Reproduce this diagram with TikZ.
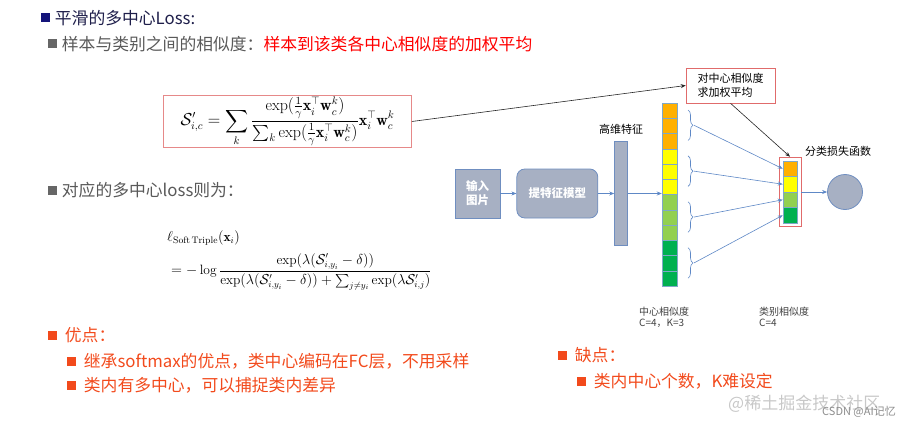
\documentclass[tikz,border=0pt]{standalone}
\usepackage{fontspec}
\usepackage{amsmath,amssymb}
\newfontfamily\cjk{Noto Sans CJK SC}
\usetikzlibrary{positioning,arrows.meta,decorations.pathreplacing}

\definecolor{navybul}{HTML}{14147A}
\definecolor{titletxt}{HTML}{1E1E4A}
\definecolor{graybul}{HTML}{666666}
\definecolor{graytxt}{HTML}{595959}
\definecolor{hired}{HTML}{FF0000}
\definecolor{proscol}{HTML}{F24A1C}
\definecolor{boxfill}{HTML}{A7B0C3}
\definecolor{boxline}{HTML}{6F8EC0}
\definecolor{flowcol}{HTML}{5E88C6}
\definecolor{corange}{HTML}{FFB000}
\definecolor{cyellow}{HTML}{FFFF00}
\definecolor{clgreen}{HTML}{92D050}
\definecolor{cgreen}{HTML}{00B050}
\definecolor{cellline}{HTML}{7FA8C8}
\definecolor{frameline}{HTML}{E06B6B}
\definecolor{markcol}{HTML}{C8C8C8}

\tikzset{
  bul/.style={fill=#1,minimum size=9pt,inner sep=0pt},
  lvltxt/.style={anchor=west,inner sep=0pt,font=\cjk\fontsize{16.8}{19}\selectfont},
  smalltxt/.style={inner sep=0pt,font=\cjk\fontsize{11}{13}\selectfont},
  tinytxt/.style={anchor=west,inner sep=0pt,text=black!75,font=\cjk\fontsize{10}{12}\selectfont},
  blockbox/.style={draw=boxline,fill=boxfill,line width=0.8pt,text=white,align=center,
    font=\cjk\fontsize{11.5}{14}\selectfont\bfseries,inner sep=0pt},
  cell/.style={draw=cellline,line width=0.5pt,minimum width=15pt,minimum height=15.25pt,inner sep=0pt},
  kcell/.style={draw=cellline,line width=0.5pt,minimum width=14pt,minimum height=15.5pt,inner sep=0pt},
  flow/.style={draw=flowcol,line width=0.6pt,-{Stealth[length=5pt,width=4pt]}},
  pointer/.style={draw=black!85,line width=0.6pt,-{Stealth[length=5pt,width=4pt]}},
  bracket/.style={draw=flowcol,line width=0.6pt,decorate,decoration={brace,amplitude=5pt}},
}

\begin{document}
\begin{tikzpicture}[x=1pt,y=-1pt]
  \useasboundingbox (0,0) rectangle (904,428);

  % Headings
  \node[bul=navybul] (h1b) at (45,18) {};
  \node[lvltxt,text=titletxt,right=5pt of h1b] (h1) {平滑的多中心Loss:};
  \node[bul=graybul] (h2b) at (52,44) {};
  \node[lvltxt,text=graytxt,right=5pt of h2b] (h2) {样本与类别之间的相似度：\textcolor{hired}{样本到该类各中心相似度的加权平均}};
  \node[bul=graybul] (h3b) at (52,190) {};
  \node[lvltxt,text=graytxt,right=5pt of h3b] (h3) {对应的多中心loss则为：};

  % Formulas
  \node[draw=frameline!80,line width=0.6pt,minimum width=248pt,minimum height=52pt,inner sep=0pt,
    font=\fontsize{16}{19}\selectfont] (simf) at (287.5,121.5)
    {$\displaystyle \mathcal{S}'_{i,c} = \sum_k \frac{\exp(\frac{1}{\gamma}\mathbf{x}_i^\top\mathbf{w}_c^k)}{\sum_k\exp(\frac{1}{\gamma}\mathbf{x}_i^\top\mathbf{w}_c^k)}\mathbf{x}_i^\top\mathbf{w}_c^k$};
  \node[anchor=north west,inner sep=0pt,font=\fontsize{13.5}{16}\selectfont] (lossf) at (167,230)
    {$\begin{aligned}
      &\ell_{\mathrm{Soft\,Triple}}(\mathbf{x}_i)\\[3pt]
      &= -\log\frac{\exp(\lambda(\mathcal{S}'_{i,y_i}-\delta))}{\exp(\lambda(\mathcal{S}'_{i,y_i}-\delta))+\sum_{j\neq y_i}\exp(\lambda\mathcal{S}'_{i,j})}
    \end{aligned}$};

  % Pros and cons
  \node[bul=proscol] (p0b) at (52,335) {};
  \node[lvltxt,text=proscol,right=8pt of p0b] (p0) {优点：};
  \node[bul=proscol] (p1b) at (71,361) {};
  \node[lvltxt,text=proscol,right=8pt of p1b] (p1) {继承softmax的优点，类中心编码在FC层，不用采样};
  \node[bul=proscol] (p2b) at (71,385) {};
  \node[lvltxt,text=proscol,right=8pt of p2b] (p2) {类内有多中心，可以捕捉类内差异};
  \node[bul=proscol] (n0b) at (562,355) {};
  \node[lvltxt,text=proscol,right=8pt of n0b] (n0) {缺点：};
  \node[bul=proscol] (n1b) at (581,381) {};
  \node[lvltxt,text=proscol,right=8pt of n1b] (n1) {类内中心个数，K难设定};

  % Network
  \node[blockbox,minimum width=45pt,minimum height=49pt] (img) at (477.5,193.5) {输入\\图片};
  \node[blockbox,rounded corners=8pt,minimum width=81pt,minimum height=49pt,right=16pt of img] (model) {提特征模型};
  \node[blockbox,minimum width=13pt,minimum height=104pt,right=16pt of model] (feat) {};
  \node[smalltxt,above=7pt of feat] (featlbl) {高维特征};
  \draw[flow] (img) -- (model);
  \draw[flow] (model) -- (feat);

  % Center similarities
  \foreach \i/\c in {1/corange,2/corange,3/corange,4/cyellow,5/cyellow,6/cyellow,
                     7/clgreen,8/clgreen,9/clgreen,10/cgreen,11/cgreen,12/cgreen}
    \node[cell,fill=\c] (c\i) at (669.5,{103+(\i-0.5)*15.25}) {};
  \draw[flow] (feat.east) -- (feat.east -| c1.west);

  % Class similarities
  \foreach \i/\c in {1/corange,2/cyellow,3/clgreen,4/cgreen}
    \node[kcell,fill=\c] (k\i) at (790,{161+(\i-0.5)*15.5}) {};
  \node[draw=frameline,line width=0.6pt,minimum width=22pt,minimum height=69pt,inner sep=0pt] (kframe) at (790,191.5) {};

  % Braces
  \foreach \j in {1,...,4} {
    \draw[bracket] (688,{110+(\j-1)*45.9}) -- (688,{140.5+(\j-1)*45.9});
    \coordinate (b\j) at (694,{125.25+(\j-1)*45.9});
    \draw[flow] (b\j) -- (k\j.west);
  }

  % Loss
  \node[circle,draw=boxline,fill=boxfill,line width=0.8pt,minimum size=35pt,inner sep=0pt] (loss) at (845,192) {};
  \draw[flow] (kframe.east |- loss.west) -- (loss.west);
  \node[smalltxt] (losslbl) at (838,151) {分类损失函数};

  % Note
  \node[draw=frameline,line width=0.6pt,minimum width=89pt,minimum height=35pt,align=left,
    font=\cjk\fontsize{11}{14}\selectfont,inner sep=0pt] (note) at (730.5,85.5) {对中心相似度\\求加权平均};
  \draw[pointer] (note.south) -- (kframe.north);
  \draw[pointer] (simf.east) -- (note.west);

  % Labels under columns
  \node[tinytxt] (clbl) at (639,312) {中心相似度};
  \node[tinytxt,below=2pt of clbl.south west,anchor=north west] (cval) {C=4，K=3};
  \node[tinytxt] (klbl) at (759,312) {类别相似度};
  \node[tinytxt,below=2pt of klbl.south west,anchor=north west] (kval) {C=4};

  % Watermarks
  \node[anchor=west,inner sep=0pt,text=markcol,font=\cjk\fontsize{17}{19}\selectfont] (wm1) at (728,404) {@稀土掘金技术社区};
  \node[anchor=east,inner sep=0pt,text=black!45,font=\cjk\fontsize{11}{13}\selectfont] (wm2) at (896,412) {CSDN @AI记忆};
\end{tikzpicture}
\end{document}
